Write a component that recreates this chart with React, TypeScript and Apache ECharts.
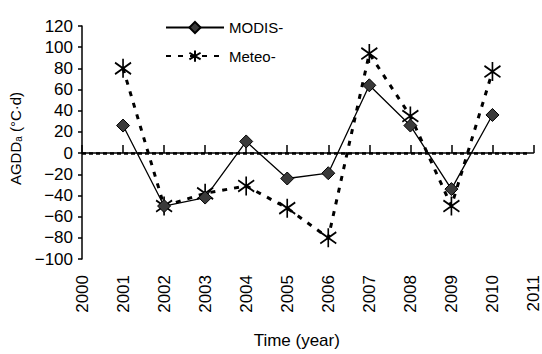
import React, { useEffect, useRef } from "react";
import * as echarts from "echarts";

const years = [2001, 2002, 2003, 2004, 2005, 2006, 2007, 2008, 2009, 2010];
const modis = [26, -50, -42, 11, -24, -19, 64, 26, -34, 36];
const meteo = [80, -50, -38, -31, -52, -80, 94, 35, -50, 77];
const seriesNames = ["MODIS-", "Meteo-"];

const starPath = "path://M10,0 L10,20 M2,4 L18,16 M2,16 L18,4";

export default function App() {
  const ref = useRef<HTMLDivElement>(null);
  useEffect(() => {
    if (!ref.current) return;
    const chart = echarts.init(ref.current, null, { renderer: "svg" });
    const font = "Liberation Sans, Arial, sans-serif";
    chart.setOption({
      animation: false,
      backgroundColor: "#fff",
      textStyle: { fontFamily: font },
      grid: { left: 82, right: 7, top: 26, bottom: 87, containLabel: false },
      legend: {
        orient: "vertical",
        left: 160,
        top: 15,
        itemWidth: 58,
        itemHeight: 14,
        itemGap: 13,
        textStyle: { fontSize: 15, color: "#000", fontFamily: font },
        data: seriesNames,
      },
      xAxis: {
        type: "value",
        min: 2000,
        max: 2011,
        interval: 1,
        name: "Time (year)",
        nameLocation: "middle",
        nameGap: 73,
        nameTextStyle: { fontSize: 17, color: "#000", fontFamily: font, padding: [0, 22, 0, 0] },
        axisLine: { show: true, lineStyle: { color: "#000", width: 1.5 } },
        axisTick: { show: true, inside: true, length: 8, lineStyle: { color: "#000", width: 1.5 } },
        axisLabel: {
          rotate: 90,
          fontSize: 17,
          color: "#000",
          margin: 16,
          fontFamily: font,
          formatter: (v: number) => String(v),
        },
        splitLine: { show: false },
      },
      yAxis: {
        type: "value",
        min: -100,
        max: 120,
        interval: 20,
        name: "{m|AGDD}{s|a}{m| (°C·d)}",
        nameLocation: "middle",
        nameGap: 45,
        nameRotate: 90,
        nameTextStyle: {
          padding: [0, 0, 0, 8],
          rich: {
            m: { fontSize: 15, color: "#000", fontFamily: font },
            s: { fontSize: 10, color: "#000", fontFamily: font, verticalAlign: "bottom", padding: [6, 0, 0, 0] },
          },
        },
        axisLine: { show: true, lineStyle: { color: "#000", width: 1.5 } },
        axisTick: { show: true, inside: false, length: 4, lineStyle: { color: "#000", width: 1.5 } },
        axisLabel: {
          fontSize: 17,
          color: "#000",
          margin: 9,
          fontFamily: font,
          formatter: (v: number) => String(v).replace("-", "\u2212"),
        },
        splitLine: { show: false },
      },
      series: [
        {
          name: seriesNames[0],
          type: "line",
          data: years.map((y, i) => [y, modis[i]]),
          symbol: "diamond",
          symbolSize: 13,
          lineStyle: { color: "#000", width: 1.3 },
          itemStyle: { color: "#3a3a3a", borderColor: "#000", borderWidth: 1 },
          z: 3,
          markLine: {
            silent: true,
            symbol: "none",
            label: { show: false },
            lineStyle: { color: "#000", type: [4, 3], width: 2.5 },
            data: [[{ coord: [2000, 0] }, { coord: [2010.9, 0] }]],
          },
        },
        {
          name: seriesNames[1],
          type: "line",
          data: years.map((y, i) => [y, meteo[i]]),
          symbol: starPath,
          symbolSize: [16, 19],
          lineStyle: { color: "#000", width: 3, type: [5, 7] },
          itemStyle: { color: "none", borderColor: "#000", borderWidth: 1.8 },
          z: 2,
        },
      ],
    });
    return () => chart.dispose();
  }, []);
  return <div ref={ref} style={{ width: 542, height: 354, position: "absolute", left: 0, top: 0 }} />;
}
